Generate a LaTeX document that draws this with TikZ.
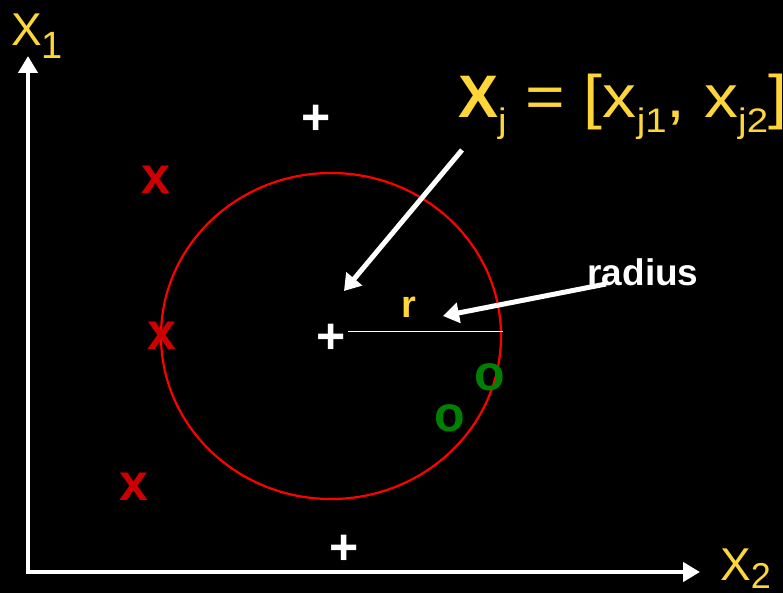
\documentclass[tikz,border=0pt]{standalone}
\usepackage{fontspec}
\setmainfont{Liberation Sans}
\usetikzlibrary{arrows.meta}
\definecolor{ylw}{HTML}{FFD63A}
\definecolor{dred}{HTML}{CC0000}
\definecolor{dgreen}{HTML}{008000}
\tikzset{
  whitearrow/.style={draw=white,line width=5pt,-{Triangle[length=16pt,width=20pt]}},
  axisarrow/.style={draw=white,line width=4.5pt,-{Triangle[length=17pt,width=19pt]}},
  plusmark/.style={text=white,font=\fontsize{50}{50}\selectfont\bfseries,inner sep=0pt},
  xmark/.style={text=dred,font=\fontsize{52}{52}\selectfont\bfseries,inner sep=0pt},
  omark/.style={text=dgreen,font=\fontsize{50}{50}\selectfont\bfseries,inner sep=0pt},
  lbl/.style={text=ylw,inner sep=0pt}
}
\begin{document}
\begin{tikzpicture}[x=1pt,y=-1pt]
\fill[black] (0,0) rectangle (783,593);
\useasboundingbox (0,0) rectangle (783,593);
% axes
\coordinate (O) at (28,572);
\coordinate (ytop) at (28,56);
\coordinate (xend) at (700,572);
\draw[axisarrow] (O) -- (ytop);
\draw[axisarrow] ([xshift=-2.25pt]O) -- (xend);
% axis labels
\node[lbl,anchor=base west] (x1lbl) at (11,46) {\fontsize{46}{46}\selectfont X\raisebox{-13pt}{\fontsize{38}{38}\selectfont 1}};
\node[lbl,anchor=base west] (x2lbl) at (720,580) {\fontsize{46}{46}\selectfont X\raisebox{-8pt}{\fontsize{36}{36}\selectfont 2}};
% circle
\draw[red,line width=2.2pt] (331,336) ellipse [x radius=170, y radius=163];
% radius line
\coordinate (rl1) at (348,331);
\coordinate (rl2) at (503,331);
\draw[white,line width=1pt] (rl1) -- (rl2);
% plus marks
\node[plusmark] (p1) at (316,120) {+};
\node[plusmark] (p2) at (331,339) {+};
\node[plusmark] (p3) at (344,550) {+};
% x marks
\node[xmark] (m1) at (156,180) {x};
\node[xmark] (m2) at (162,336) {x};
\node[xmark] (m3) at (134,487) {x};
% o marks
\node[omark] (o1) at (490,377) {o};
\node[omark] (o2) at (450,418) {o};
% labels
\node[lbl,anchor=base west] (xj) at (458,118) {\fontsize{60}{60}\selectfont\textbf{X}\scalebox{1.13}[1]{\raisebox{-15pt}{\fontsize{34}{34}\selectfont j} = [x\raisebox{-15pt}{\fontsize{34}{34}\selectfont j1}, x\raisebox{-15pt}{\fontsize{34}{34}\selectfont j2}]}};
\node[lbl,font=\fontsize{38}{38}\selectfont\bfseries] (r) at (409,307) {r};
\node[text=white,font=\fontsize{37}{37}\selectfont\bfseries,inner sep=0pt] (radius) at (643,272) {radius};
% arrows
\coordinate (a1s) at (462,150);
\coordinate (a1e) at (344,291);
\draw[whitearrow] (a1s) -- (a1e);
\coordinate (a2s) at (606,284);
\coordinate (a2e) at (443,316);
\draw[whitearrow] (a2s) -- (a2e);
\end{tikzpicture}
\end{document}
